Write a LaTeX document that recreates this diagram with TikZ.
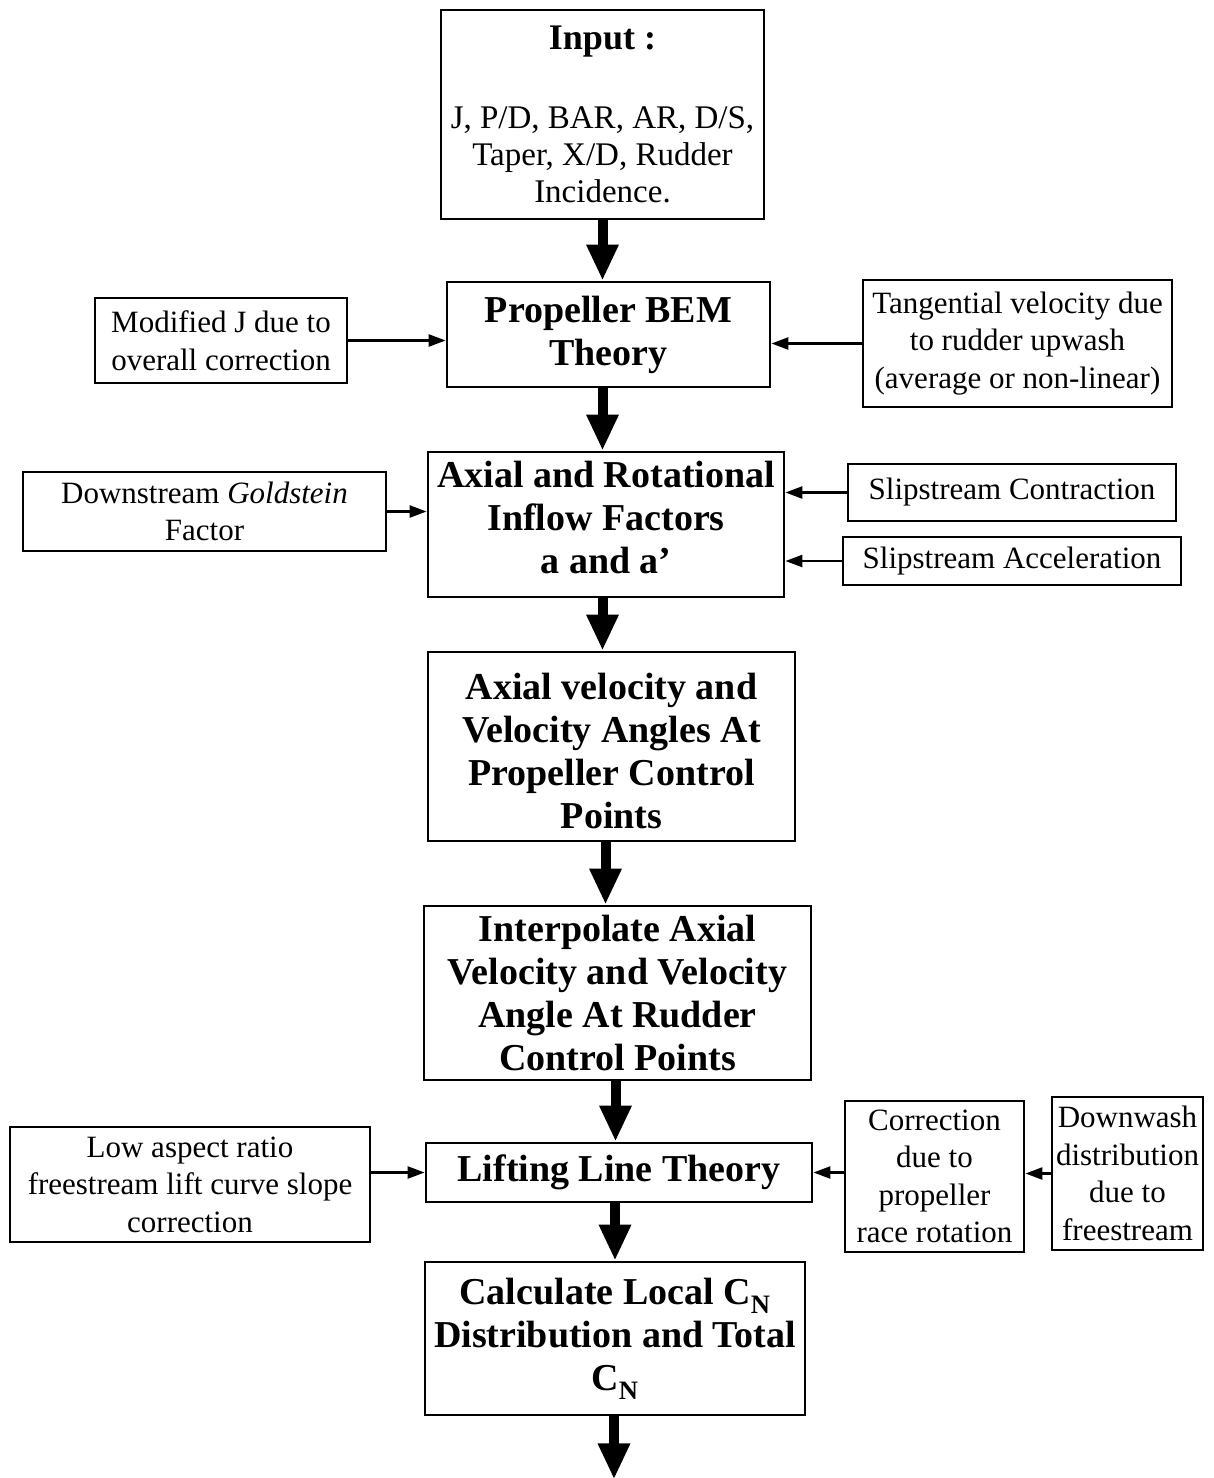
\documentclass[tikz,border=0pt]{standalone}
\usepackage{fontspec}
\setmainfont{Liberation Serif}
\usetikzlibrary{arrows.meta,calc}
\begin{document}
\begin{tikzpicture}[x=1pt,y=-1pt]
\tikzset{
 box/.style={draw, line width=2.8pt, inner sep=0pt, align=center},
 mainbox/.style={box, font=\fontsize{38}{43}\selectfont\bfseries},
 maintext/.style={inner sep=0pt, align=center, font=\fontsize{38}{43}\selectfont\bfseries},
 sidebox/.style={box, font=\fontsize{31}{37.5}\selectfont},
 bigarrow/.style={line width=10pt, -{Triangle[length=36pt,width=30pt]}},
 smallarrow/.style={line width=2.4pt, -{Triangle[length=17pt,width=12pt]}},
}
\useasboundingbox[fill=white] (0,0) rectangle (1213,1478);

% main column
\node[box, font=\fontsize{33}{37}\selectfont, minimum width=323pt, minimum height=209pt] (inp) at (602.5,114.5)
 {{\bfseries\fontsize{36}{40}\selectfont Input :}\\[42pt]J, P/D, BAR, AR, D/S,\\Taper, X/D, Rudder\\Incidence.};
\node[mainbox, minimum width=323pt, minimum height=105pt] (prop) at (608.5,334.5) {Propeller BEM\\Theory};
\node[mainbox, minimum width=356pt, minimum height=145pt] (axrot) at (606,524.5) {};
\node[maintext] (axrottext) at ($(axrot.center)+(0,-7)$) {Axial and Rotational\\Inflow Factors\\a and a’};
\node[mainbox, minimum width=367pt, minimum height=189pt] (axvel) at (611.5,746.5) {};
\node[maintext] (axveltext) at ($(axvel.center)+(0,4)$) {Axial velocity and\\Velocity Angles At\\Propeller Control\\Points};
\node[mainbox, minimum width=387pt, minimum height=174pt] (interp) at (617.5,993) {Interpolate Axial\\Velocity and Velocity\\Angle At Rudder\\Control Points};
\node[mainbox, minimum width=386pt, minimum height=59pt] (lift) at (619,1172.5) {Lifting Line Theory};
\node[mainbox, minimum width=380pt, minimum height=153pt] (calc) at (615,1338.5) {Calculate Local C\textsubscript{N}\\Distribution and Total\\C\textsubscript{N}};
\coordinate (endpt) at ($(calc.south)+(0,63)$);

% side boxes
\node[sidebox, minimum width=252pt, minimum height=85pt] (modj) at (221,340.5) {Modified J due to\\overall correction};
\node[sidebox, minimum width=309pt, minimum height=127pt] (tang) at (1017.5,343.5) {Tangential velocity due\\to rudder upwash\\(average or non-linear)};
\node[sidebox, minimum width=363pt, minimum height=79pt] (gold) at (204.5,511.5) {Downstream \textit{Goldstein}\\Factor};
\node[sidebox, minimum width=328pt, minimum height=57pt] (scon) at (1012,492.5) {Slipstream Contraction};
\node[sidebox, minimum width=338pt, minimum height=48pt] (sacc) at (1012,561) {Slipstream Acceleration};
\node[sidebox, minimum width=360pt, minimum height=115pt] (lowar) at (190,1184.5) {Low aspect ratio\\freestream lift curve slope\\correction};
\node[sidebox, minimum width=179pt, minimum height=151pt] (corr) at (934.5,1176.5) {Correction\\due to\\propeller\\race rotation};
\node[sidebox, minimum width=151pt, minimum height=153pt] (down) at (1127.5,1173.5) {Downwash\\distribution\\due to\\freestream};

% thick arrows
\draw[bigarrow] (inp.south) -- (inp.south |- prop.north);
\draw[bigarrow] (prop.south -| inp.south) -- (axrot.north -| inp.south);
\draw[bigarrow] (axrot.south -| inp.south) -- (axvel.north -| inp.south);
\draw[bigarrow] ($(axvel.south)+(-6,0)$) -- ($(axvel.south |- interp.north)+(-6,0)$);
\draw[bigarrow] ($(interp.south)+(-2,0)$) -- ($(interp.south |- lift.north)+(-2,0)$);
\draw[bigarrow] ($(lift.south)+(-4,0)$) -- ($(lift.south |- calc.north)+(-4,0)$);
\draw[bigarrow] ($(calc.south)+(-1,0)$) -- ($(endpt)+(-1,0)$);

% thin arrows
\draw[smallarrow] (modj.east) -- (modj.east -| prop.west);
\draw[smallarrow] (tang.west) -- (tang.west -| prop.east);
\draw[smallarrow] (gold.east) -- (gold.east -| axrot.west);
\draw[smallarrow] (scon.west) -- (scon.west -| axrot.east);
\draw[smallarrow] (sacc.west) -- (sacc.west -| axrot.east);
\draw[smallarrow] (lift.west -| lowar.east) -- (lift.west);
\draw[smallarrow] (lift.east -| corr.west) -- (lift.east);
\draw[smallarrow] (down.west) -- (down.west -| corr.east);
\end{tikzpicture}
\end{document}
